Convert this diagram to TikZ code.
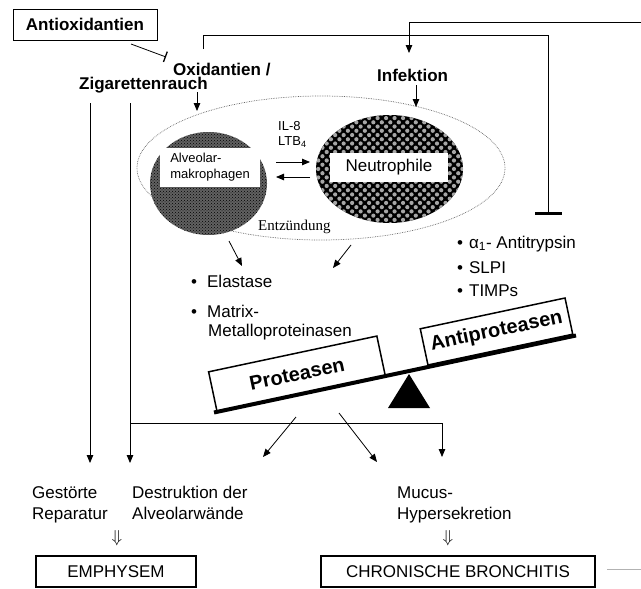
\documentclass[tikz,border=0pt]{standalone}
\usepackage{fontspec}
\setmainfont{Liberation Sans}
\newfontfamily\serifx{Liberation Serif}
\usetikzlibrary{arrows.meta,shapes.geometric,patterns,patterns.meta}
\begin{document}
\begin{tikzpicture}[x=1pt,y=-1pt,
  txt/.style={anchor=base west, inner sep=0pt, font=\fontsize{17}{20}\selectfont},
  btxt/.style={anchor=base west, inner sep=0pt, font=\fontsize{17}{20}\selectfont\bfseries},
  smalltxt/.style={anchor=base west, inner sep=0pt, font=\fontsize{13}{16}\selectfont},
  ln/.style={line width=0.8pt},
  arr/.style={ln, -{Triangle[length=8pt,width=6.5pt]}},
  inh/.style={ln, -{Bar[width=27pt,line width=2.6pt]}},
  dbl/.style={inner sep=0pt, font=\fontsize{17}{20}\selectfont},
  resbox/.style={draw, line width=1.8pt, minimum height=31pt, inner sep=0pt, font=\fontsize{17}{20}\selectfont},
  scalebox/.style={draw, line width=1.5pt, fill=white, rotate=12, inner sep=0pt, font=\fontsize{20}{24}\selectfont\bfseries}
]
\useasboundingbox (0,0) rectangle (641,589);
\fill[white] (0,0) rectangle (641,589);

% top labels
\node[draw, line width=0.9pt, minimum width=144pt, minimum height=31pt, inner sep=0pt,
      font=\fontsize{17}{20}\selectfont\bfseries] (anti) at (85,24.5) {\raisebox{-1.5pt}{Antioxidantien}};
\node[btxt] (oxi) at (173,75.5) {Oxidantien /};
\node[btxt] (zig) at (79,89.5) {Zigarettenrauch};
\node[btxt] (inf) at (377,81) {Infektion};

% inhibition Antioxidantien -> Oxidantien
\coordinate (antiOut) at (131,44);
\coordinate (oxiIn) at (166,57);
\draw[ln, -{Bar[width=11pt,line width=1.3pt]}] (antiOut) -- (oxiIn);

% feedback loop Oxidantien -> inhibition of Antiproteasen
\coordinate (oxiTop) at (203,49);
\coordinate (antiprotIn) at (548,215);
\draw[inh] (oxiTop) -- (203,35) -- (548,35) -- (antiprotIn);

% line from the right edge -> Infektion
\coordinate (rightIn) at (641,22);
\coordinate (infTop) at (409,53);
\draw[arr] (rightIn) -- (409,22) -- (infTop);

% inflammation ellipse
\node[ellipse, draw=black!60, densely dotted, line width=0.7pt, minimum width=368pt, minimum height=144pt, inner sep=0pt] (entzE) at (321,168) {};
\node[ellipse, minimum width=117pt, minimum height=103pt, inner sep=0pt,
      preaction={fill=black!62}, pattern=crosshatch dots, pattern color=black] (makE) at (208.5,183.5) {};
\node[ellipse, minimum width=147pt, minimum height=108pt, inner sep=0pt,
      preaction={fill=black}, pattern={Dots[radius=2.1pt,distance=6pt,angle=45]}, pattern color=gray!70] (neuE) at (389.5,169) {};
\node[fill=white, minimum width=100pt, minimum height=39pt, inner sep=0pt, align=left,
      font=\fontsize{13}{16}\selectfont] (mak) at (210,167.5) {Alveolar-\\makrophagen};
\node[fill=white, minimum width=118pt, minimum height=29pt, inner sep=0pt,
      font=\fontsize{17}{20}\selectfont] (neu) at (389,167.5) {Neutrophile};
\node[smalltxt] (il8) at (278,130) {IL-8};
\node[smalltxt] (ltb) at (278,145) {LTB\textsubscript{4}};
\node[anchor=base west, inner sep=0pt, font=\serifx\fontsize{15}{18}\selectfont] (ent) at (258,230) {Entzündung};

% arrows into the ellipse
\coordinate (zigOut) at (197,92);
\coordinate (zigIn) at (197,111);
\draw[arr] (zigOut) -- (zigIn);
\coordinate (infOut) at (416,85);
\coordinate (infIn) at (416,107);
\draw[arr] (infOut) -- (infIn);

% arrows between cells
\coordinate (c1) at (276,162); \coordinate (c2) at (310,162);
\coordinate (c3) at (310,177); \coordinate (c4) at (276,177);
\draw[arr] (c1) -- (c2);
\draw[arr] (c3) -- (c4);

% arrows to proteases
\coordinate (p1s) at (229,241); \coordinate (p1e) at (242,266);
\coordinate (p2s) at (351,245); \coordinate (p2e) at (333,268);
\draw[arr] (p1s) -- (p1e);
\draw[arr] (p2s) -- (p2e);

% lists
\node[txt] (ela) at (191,287) {•\hspace{10pt}Elastase};
\node[txt] (mat1) at (191,317) {•\hspace{10pt}Matrix-};
\node[txt] (mat2) at (208,336) {Metalloproteinasen};
\node[txt] (alp) at (457,248) {•\hspace{6pt}α\textsubscript{1}- Antitrypsin};
\node[txt] (slpi) at (457,273) {•\hspace{6pt}SLPI};
\node[txt] (timp) at (457,296) {•\hspace{6pt}TIMPs};

% scale
\node[scalebox, minimum width=172pt, minimum height=41pt] (prot) at (297,374) {Proteasen};
\node[scalebox, minimum width=148pt, minimum height=37pt] (antiprot) at (496.5,331.5) {Antiproteasen};
\coordinate (beamL) at (214,412.5);
\coordinate (beamR) at (576,335.5);
\draw[line width=4pt] (beamL) -- (beamR);
\fill (409,374) -- (430,408) -- (388,408) -- cycle;

% lower connectors
\coordinate (v1t) at (90,103); \coordinate (v1b) at (90,463);
\coordinate (v2t) at (130,103); \coordinate (v2b) at (130,463);
\draw[arr] (v1t) -- (v1b);
\draw[arr] (v2t) -- (v2b);
\coordinate (hL) at (130,423); \coordinate (hR) at (442,457);
\draw[arr] (hL) -- (442,423) -- (hR);
\coordinate (d1s) at (296,417); \coordinate (d1e) at (263,457);
\coordinate (d2s) at (339,413); \coordinate (d2e) at (377,462);
\draw[arr] (d1s) -- (d1e);
\draw[arr] (d2s) -- (d2e);

% outcomes
\node[txt] (ges1) at (32,498) {Gestörte};
\node[txt] (ges2) at (32,519) {Reparatur};
\node[txt] (des1) at (132,498) {Destruktion der};
\node[txt] (des2) at (132,519) {Alveolarwände};
\node[txt] (muc1) at (397,498) {Mucus-};
\node[txt] (muc2) at (397,519) {Hypersekretion};
\node[dbl] (dA) at (117,538) {$\Downarrow$};
\node[dbl] (dB) at (448,538) {$\Downarrow$};

\node[resbox, minimum width=160pt] (emph) at (116,571.5) {EMPHYSEM};
\node[resbox, minimum width=274pt] (chr) at (458,571.5) {CHRONISCHE BRONCHITIS};
\coordinate (chrR) at (607,569); \coordinate (edgeR) at (641,569);
\draw[line width=0.6pt, gray!60] (chrR) -- (edgeR);
\end{tikzpicture}
\end{document}
